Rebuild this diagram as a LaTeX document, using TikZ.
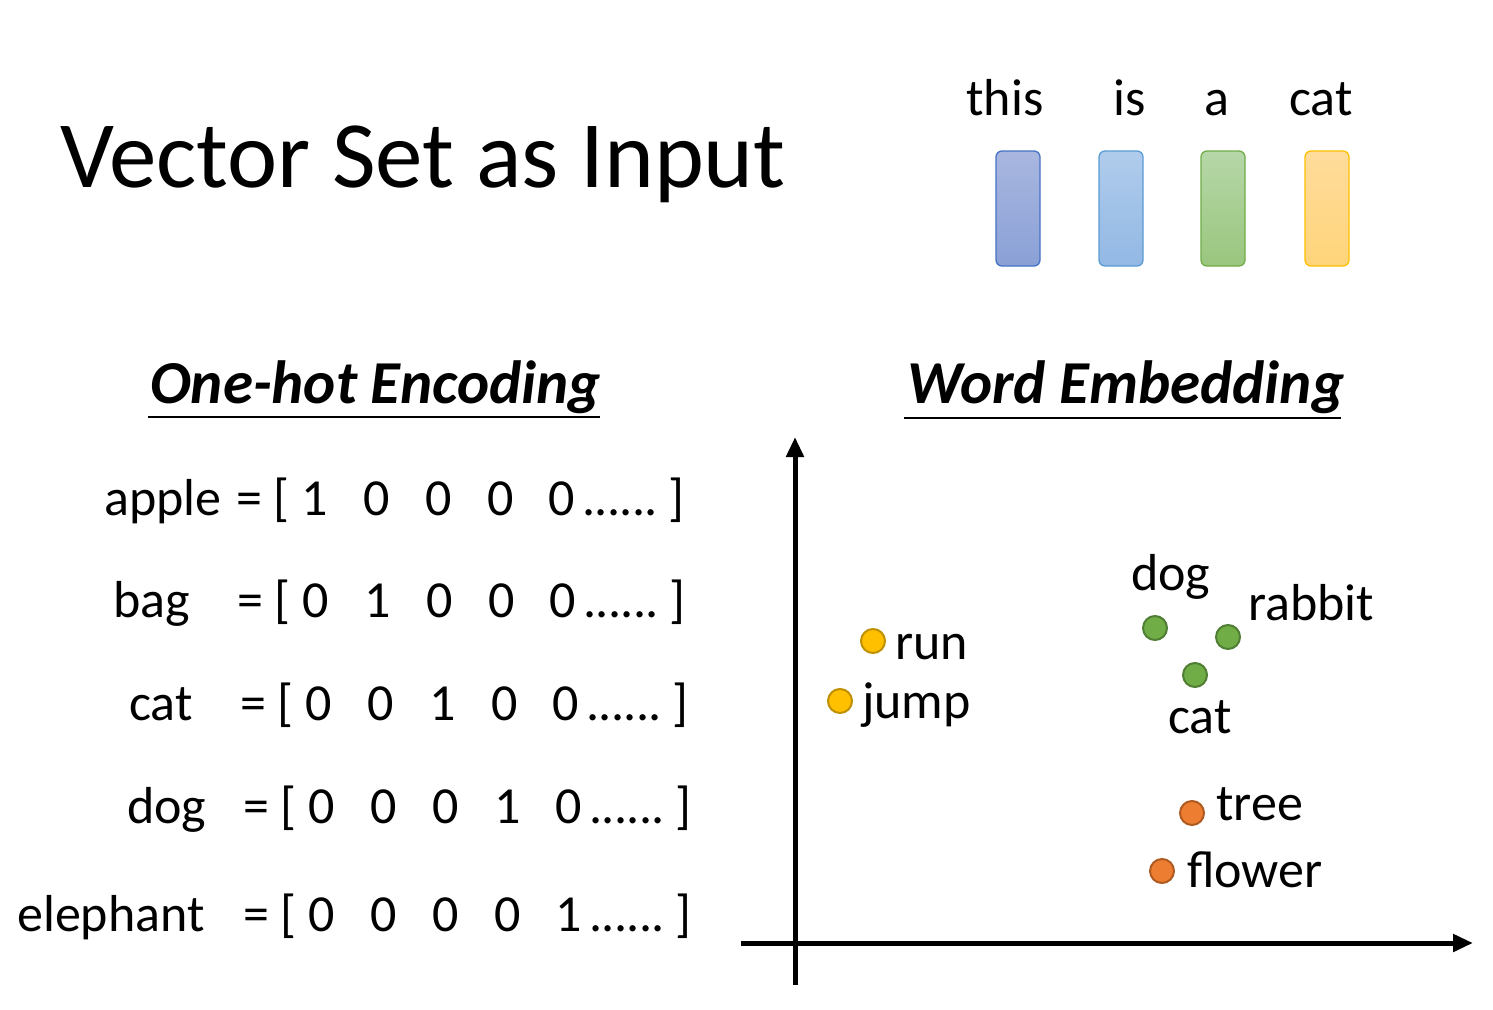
\documentclass[tikz,border=0pt]{standalone}
\usepackage{fontspec}
\setmainfont{Carlito}
\usetikzlibrary{arrows.meta}
\definecolor{bAline}{HTML}{4472C4}\definecolor{bAtop}{HTML}{A9B7E0}\definecolor{bAbot}{HTML}{8AA0D6}
\definecolor{bBline}{HTML}{5B9BD5}\definecolor{bBtop}{HTML}{B0CCEC}\definecolor{bBbot}{HTML}{92B8E4}
\definecolor{bCline}{HTML}{70AD47}\definecolor{bCtop}{HTML}{B6D7A8}\definecolor{bCbot}{HTML}{9AC67E}
\definecolor{bDline}{HTML}{FFC000}\definecolor{bDtop}{HTML}{FFDC9C}\definecolor{bDbot}{HTML}{FFD47A}
\definecolor{yelF}{HTML}{FFC000}\definecolor{yelD}{HTML}{BF9000}
\definecolor{grnF}{HTML}{70AD47}\definecolor{grnD}{HTML}{507E32}
\definecolor{orgF}{HTML}{ED7D31}\definecolor{orgD}{HTML}{AE5A21}
\newcommand\vgap{\hspace{35.5pt}}
\newcommand\rowdots{.\kern-0.6pt.\kern-0.6pt.\kern-0.6pt.\kern-0.6pt.\kern-0.6pt.}
\newcommand\vrow[5]{= [ #1\vgap #2\vgap #3\vgap #4\vgap #5\hspace{7pt}\rowdots\hspace{10pt}]}
\begin{document}
\begin{tikzpicture}[x=1pt,y=-1pt,
  txt/.style={inner sep=0pt, font=\fontsize{52}{60}\selectfont},
  bar/.style={draw, line width=1.3pt, rounded corners=6pt, minimum width=44pt, minimum height=115pt, inner sep=0pt},
  wdot/.style={circle, line width=2pt, minimum size=24pt, inner sep=0pt},
  head/.style={inner sep=0pt, anchor=base west, font=\fontsize{61}{70}\selectfont\bfseries\itshape},
  axis/.style={line width=5pt, -{Triangle[length=20pt, width=17pt]}},
  uline/.style={line width=1.8pt}
]
\fill[white] (0,0) rectangle (1493,1009);
\useasboundingbox (0,0) rectangle (1493,1009);

% title
\node[inner sep=0pt, anchor=base west, font=\fontsize{95}{110}\selectfont] (title) at (60,187) {Vector Set as Input};

% sentence words and vectors
\node[txt, anchor=base] (w1) at (1005,115) {this};
\node[txt, anchor=base] (w2) at (1130,115) {is};
\node[txt, anchor=base] (w3) at (1217,115) {a};
\node[txt, anchor=base] (w4) at (1321,115) {cat};
\node[bar, draw=bAline, top color=bAtop, bottom color=bAbot] (v1) at (1018,208.5) {};
\node[bar, draw=bBline, top color=bBtop, bottom color=bBbot] (v2) at (1121,208.5) {};
\node[bar, draw=bCline, top color=bCtop, bottom color=bCbot] (v3) at (1223,208.5) {};
\node[bar, draw=bDline, top color=bDtop, bottom color=bDbot] (v4) at (1327,208.5) {};

% headings
\node[head] (h1) at (150,403) {One-hot Encoding};
\draw[uline] (148,417) -- (600,417);
\node[head] (h2) at (907,403) {Word Embedding};
\draw[uline] (904,418) -- (1341,418);

% one-hot rows
\node[txt, anchor=base west] (l1) at (104,515) {apple};
\node[txt, anchor=base west] (r1) at (236,515) {\vrow{1}{0}{0}{0}{0}};
\node[txt, anchor=base west] (l2) at (113,617) {bag};
\node[txt, anchor=base west] (r2) at (237,617) {\vrow{0}{1}{0}{0}{0}};
\node[txt, anchor=base west] (l3) at (129,720) {cat};
\node[txt, anchor=base west] (r3) at (240,720) {\vrow{0}{0}{1}{0}{0}};
\node[txt, anchor=base west] (l4) at (127,823) {dog};
\node[txt, anchor=base west] (r4) at (243,823) {\vrow{0}{0}{0}{1}{0}};
\node[txt, anchor=base west] (l5) at (17,931) {elephant};
\node[txt, anchor=base west] (r5) at (243,931) {\vrow{0}{0}{0}{0}{1}};

% axes
\coordinate (yb) at (795,985);
\coordinate (yt) at (795,437);
\coordinate (xl) at (741,943);
\coordinate (xr) at (1473,943);
\draw[axis] (yb) -- (yt);
\draw[axis] (xl) -- (xr);

% embedding points
\node[wdot, fill=yelF, draw=yelD] (prun) at (873,641) {};
\node[txt, anchor=base west] (trun) at (895,659) {run};
\node[wdot, fill=yelF, draw=yelD] (pjump) at (840,701) {};
\node[txt, anchor=base west] (tjump) at (862,718) {jump};
\node[wdot, fill=grnF, draw=grnD] (pdog) at (1155,628) {};
\node[txt, anchor=base west] (tdog) at (1131,590) {dog};
\node[wdot, fill=grnF, draw=grnD] (prab) at (1228,637) {};
\node[txt, anchor=base west] (trab) at (1248,620) {rabbit};
\node[wdot, fill=grnF, draw=grnD] (pcat) at (1195,675) {};
\node[txt, anchor=base west] (tcat) at (1168,733) {cat};
\node[wdot, fill=orgF, draw=orgD] (ptree) at (1192,813) {};
\node[txt, anchor=base west] (ttree) at (1216,820) {tree};
\node[wdot, fill=orgF, draw=orgD] (pflo) at (1162,871) {};
\node[txt, anchor=base west] (tflo) at (1187,887) {flower};
\end{tikzpicture}
\end{document}
